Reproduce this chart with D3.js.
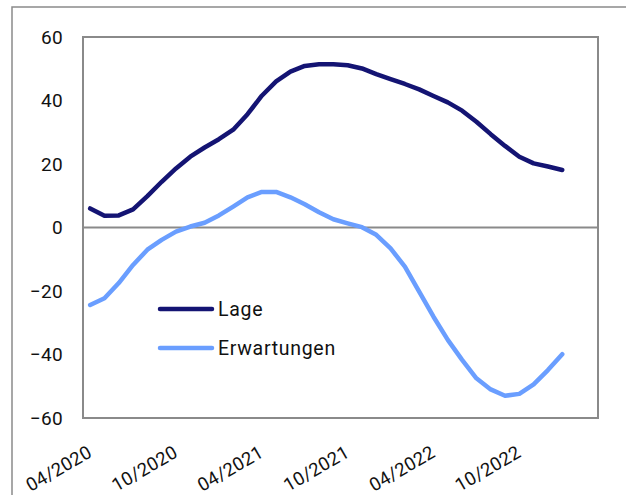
<!DOCTYPE html>
<html>
<head>
<meta charset="utf-8">
<script src="https://cdn.jsdelivr.net/npm/d3@7"></script>
<style>
html,body{margin:0;padding:0;background:#fff;}
svg{display:block;}
text{font-family:Roboto,"DejaVu Sans",sans-serif;fill:#111;}
</style>
</head>
<body>
<svg id="chart" width="626" height="495"></svg>
<script>
const categories = ["04/2020","05/2020","06/2020","07/2020","08/2020","09/2020","10/2020","11/2020","12/2020",
  "01/2021","02/2021","03/2021","04/2021","05/2021","06/2021","07/2021","08/2021","09/2021","10/2021","11/2021","12/2021",
  "01/2022","02/2022","03/2022","04/2022","05/2022","06/2022","07/2022","08/2022","09/2022","10/2022","11/2022","12/2022",
  "01/2023","02/2023","03/2023"];
const lage = [6.0,3.7,3.8,5.7,9.9,14.4,18.6,22.3,25.2,27.8,30.8,35.7,41.5,46.0,49.1,50.9,51.4,51.4,51.1,50.1,48.3,46.7,45.2,43.5,41.4,39.4,36.8,33.3,29.4,25.7,22.3,20.2,19.2,18.1];
const erwartungen = [-24.4,-22.3,-17.5,-11.8,-7.0,-3.9,-1.3,0.3,1.5,3.8,6.6,9.5,11.2,11.2,9.5,7.3,4.8,2.6,1.3,0.1,-2.3,-6.6,-12.3,-20.2,-28.1,-35.4,-41.7,-47.5,-51.0,-53.0,-52.4,-49.4,-44.9,-39.9];
const seriesNames = ["Lage","Erwartungen"];
const seriesColors = ["#141473","#6a9eff"];
const yTicks = [-60,-40,-20,0,20,40,60];
const xTickLabels = ["04/2020","10/2020","04/2021","10/2021","04/2022","10/2022"];

const svg = d3.select("#chart");
const L = 83, R = 598, T = 37, B = 418;

// outer frame
svg.append("rect").attr("x",12).attr("y",7).attr("width",700).attr("height",600)
  .attr("fill","none").attr("stroke","#8a8a8a").attr("stroke-width",1.5);

const x = d3.scaleBand().domain(categories).range([L,R]).padding(0);
const y = d3.scaleLinear().domain([-60,60]).range([B,T]);
const cx = c => x(c) + x.bandwidth()/2;

// plot box
svg.append("rect").attr("x",L).attr("y",T).attr("width",R-L).attr("height",B-T)
  .attr("fill","none").attr("stroke","#8a8a8a").attr("stroke-width",2);

// zero line
svg.append("line").attr("x1",L).attr("x2",R).attr("y1",y(0)).attr("y2",y(0))
  .attr("stroke","#8a8a8a").attr("stroke-width",2);

// y axis labels
const yAxis = d3.axisLeft(y).tickValues(yTicks).tickSize(0).tickPadding(0);
const gy = svg.append("g").attr("transform",`translate(${L-20},0)`).call(yAxis);
gy.select(".domain").remove();
gy.selectAll("text").style("font-size","19px").attr("fill","#111")
  .style("font-family","Roboto, sans-serif").style("letter-spacing","0.3px");

// x axis labels
const xAxis = d3.axisBottom(x).tickValues(xTickLabels).tickSize(0).tickPadding(0);
const gx = svg.append("g").attr("transform",`translate(0,${B})`).call(xAxis);
gx.select(".domain").remove();
gx.selectAll("text").style("font-size","18.5px").attr("fill","#111")
  .style("font-family","Roboto, sans-serif").style("letter-spacing","0.3px")
  .attr("text-anchor","end").attr("dy",null).attr("y",0)
  .attr("transform","translate(3,38) rotate(-30)");

// lines
const series = [lage, erwartungen];
const line = d3.line().x((d,i)=>cx(categories[i])).y(d=>y(d));
series.forEach((s,k)=>{
  svg.append("path").datum(s).attr("d",line).attr("fill","none")
    .attr("stroke",seriesColors[k]).attr("stroke-width",4.5)
    .attr("stroke-linejoin","round").attr("stroke-linecap","round");
});

// legend
const leg = svg.append("g").attr("transform","translate(160,309)");
seriesNames.forEach((n,k)=>{
  const g = leg.append("g").attr("transform",`translate(0,${k*39})`);
  g.append("line").attr("x1",0).attr("x2",52).attr("y1",0).attr("y2",0)
    .attr("stroke",seriesColors[k]).attr("stroke-width",4.5).attr("stroke-linecap","round");
  g.append("text").attr("x",58).attr("y",7).style("font-size","19.5px")
    .style("letter-spacing","0.7px").text(n);
});
</script>
</body>
</html>
